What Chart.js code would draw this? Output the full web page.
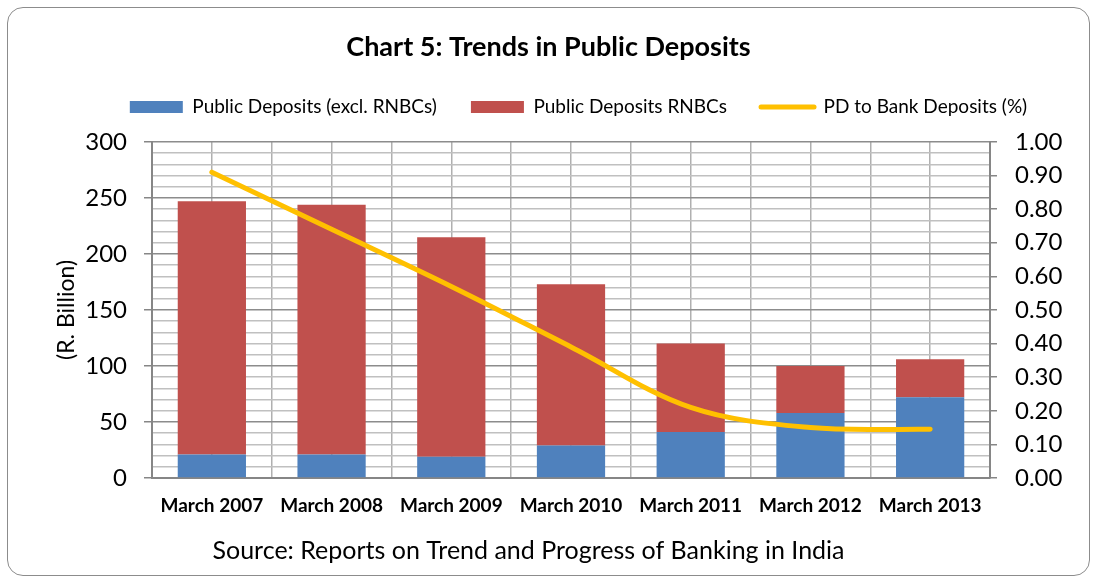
<!DOCTYPE html>
<html>
<head>
<meta charset="utf-8">
<script src="https://cdn.jsdelivr.net/npm/chart.js@4.4.1/dist/chart.umd.min.js"></script>
<style>
  html, body { margin: 0; padding: 0; background: #fff; }
  #wrap { position: relative; width: 1097px; height: 580px; }
  #frame {
    position: absolute; left: 7px; top: 7px; width: 1081px; height: 567px;
    border: 1.5px solid #8c8c8c; border-radius: 16px; pointer-events: none;
  }
</style>
</head>
<body>
<div id="wrap">
  <canvas id="myChart"></canvas>
  <div id="frame"></div>
</div>
<script>
var years = ["March 2007", "March 2008", "March 2009", "March 2010", "March 2011", "March 2012", "March 2013"];
var exclRnbc = [21, 21, 19, 29, 41, 58, 72];
var rnbc = [226, 223, 196, 144, 79, 42, 34];
var pdToBank = [0.91, 0.74, 0.57, 0.39, 0.21, 0.15, 0.145];

var fontFamily = "Lato, 'Liberation Sans', sans-serif";
var axisGray = "#868686";

// legend and source line are not centred in the original, nudge them sideways
var nudgeBlocks = {
  id: "nudgeBlocks",
  afterLayout: function (chart) {
    chart.legend.left += 30;
    chart.legend.right += 30;
    chart.titleBlock.left -= 20;
    chart.titleBlock.right -= 20;
  },
};

new Chart("myChart", {
  type: "bar",
  data: {
    labels: years,
    datasets: [
      {
        type: "line",
        label: "PD to Bank Deposits (%)",
        data: pdToBank,
        yAxisID: "y1",
        xAxisID: "x",
        borderColor: "#FFC000",
        borderWidth: 5,
        borderCapStyle: "round",
        tension: 0.35,
        pointRadius: 0,
        fill: false,
        order: 0,
      },
      {
        label: "Public Deposits (excl. RNBCs)",
        data: exclRnbc,
        backgroundColor: "#4F81BD",
        yAxisID: "y",
        xAxisID: "x",
        barPercentage: 1,
        categoryPercentage: 0.57,
        order: 1,
      },
      {
        label: "Public Deposits RNBCs",
        data: rnbc,
        backgroundColor: "#C0504D",
        yAxisID: "y",
        xAxisID: "x",
        barPercentage: 1,
        categoryPercentage: 0.57,
        order: 1,
      },
    ],
  },
  plugins: [nudgeBlocks],
  options: {
    responsive: true,
    maintainAspectRatio: false,
    animation: false,
    layout: { padding: 0 },
    plugins: {
      subtitle: {
        display: true,
        position: "top",
        text: "Chart 5: Trends in Public Deposits",
        color: "#000",
        font: { family: fontFamily, size: 27, weight: "bold" },
        padding: { top: 31, bottom: 0 },
      },
      title: {
        display: true,
        position: "bottom",
        text: "Source: Reports on Trend and Progress of Banking in India",
        color: "#000",
        font: { family: fontFamily, size: 25, weight: "normal" },
        padding: { top: 0, bottom: 14 },
      },
      legend: {
        display: true,
        labels: {
          usePointStyle: true,
          pointStyleWidth: 53,
          boxHeight: 12,
          padding: 34,
          color: "#000",
          font: { family: fontFamily, size: 19 },
          generateLabels: function (chart) {
            var ds = chart.data.datasets;
            return [
              { text: ds[1].label, fillStyle: ds[1].backgroundColor, strokeStyle: ds[1].backgroundColor, lineWidth: 0, pointStyle: "rect", datasetIndex: 1 },
              { text: ds[2].label, fillStyle: ds[2].backgroundColor, strokeStyle: ds[2].backgroundColor, lineWidth: 0, pointStyle: "rect", datasetIndex: 2 },
              { text: ds[0].label, fillStyle: ds[0].borderColor, strokeStyle: ds[0].borderColor, lineWidth: 5, lineCap: "round", pointStyle: "line", datasetIndex: 0 },
            ];
          },
        },
      },
      tooltip: { enabled: false },
    },
    scales: {
      x: {
        type: "category",
        position: "bottom",
        stacked: true,
        offset: true,
        grid: { offset: true, color: "#b0b0b0", lineWidth: 1.5, drawTicks: false },
        border: { display: true, color: axisGray, width: 2 },
        ticks: { color: "#000", padding: 16, font: { family: fontFamily, size: 19, weight: "bold" }, maxRotation: 0 },
        afterFit: function (scale) {
          scale.height = 58;
        },
      },
      x2: {
        type: "category",
        position: "top",
        labels: years,
        offset: true,
        grid: { offset: false, color: "#b0b0b0", lineWidth: 1.5, drawTicks: false },
        border: { display: false },
        ticks: { display: false },
        afterFit: function (scale) {
          scale.height = 15.5;
        },
      },
      y: {
        position: "left",
        stacked: true,
        min: 0,
        max: 300,
        grid: {
          color: function (c) { return c.tick.value % 50 === 0 ? "#8c8c8c" : "#c0c0c0"; },
          lineWidth: 1.5,
          tickLength: 8,
          tickColor: function (c) { return c.tick.value % 50 === 0 ? axisGray : "rgba(0,0,0,0)"; },
        },
        border: { display: true, color: axisGray, width: 2 },
        ticks: {
          stepSize: 10,
          autoSkip: false,
          padding: 17,
          color: "#000",
          font: { family: fontFamily, size: 24 },
          callback: function (v) { return v % 50 === 0 ? v : ""; },
        },
        title: {
          display: true,
          text: "(R. Billion)",
          color: "#000",
          font: { family: fontFamily, size: 23 },
          padding: { top: 53, bottom: 0 },
        },
        afterFit: function (scale) {
          scale.width = 152;
        },
      },
      y1: {
        position: "right",
        stacked: false,
        min: 0,
        max: 1,
        grid: { drawOnChartArea: false, tickLength: 7, color: axisGray, lineWidth: 1.5 },
        border: { display: true, color: axisGray, width: 2 },
        ticks: {
          stepSize: 0.1,
          autoSkip: false,
          padding: 18,
          color: "#000",
          font: { family: fontFamily, size: 24 },
          callback: function (v) { return v.toFixed(2); },
        },
        afterFit: function (scale) {
          scale.width = 107;
        },
      },
    },
  },
});
</script>
</body>
</html>
